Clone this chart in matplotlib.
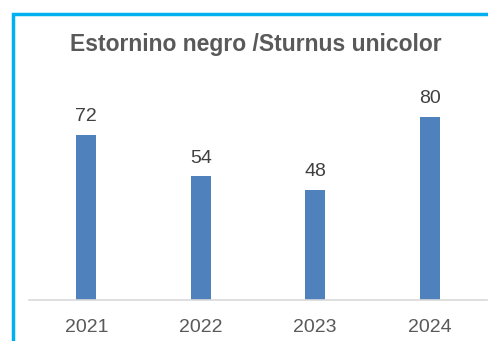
import matplotlib
matplotlib.use("Agg")
import matplotlib.pyplot as plt
from matplotlib.patches import Rectangle

years = ["2021", "2022", "2023", "2024"]
values = [72, 54, 48, 80]
title = "Estornino negro /Sturnus unicolor"

W, H = 488, 341
fig = plt.figure(figsize=(W / 100, H / 100), dpi=100)
plt.rcParams['font.family'] = ['Liberation Sans', 'DejaVu Sans']

# outer frame (cyan border, extends beyond image right/bottom)
fig.patches.append(Rectangle((12.5 / W, -0.1), 1.2, 1 - 13.5 / H + 0.1,
                             transform=fig.transFigure, fill=False,
                             edgecolor="#00B0F0", linewidth=2.5))

# axes: x 29..487, y bottom at 300
ax_left, ax_right = 29, 487
ax_bottom, ax_top = 300, 94
ax = fig.add_axes([ax_left / W, 1 - ax_bottom / H,
                   (ax_right - ax_left) / W, (ax_bottom - ax_top) / H])
x = range(len(years))
bars = ax.bar(x, values, width=0.175, color="#4F81BD", zorder=2)
ax.set_xlim(-0.5, len(years) - 0.5)
ax.set_ylim(0, 90)
for xi, v in zip(x, values):
    ax.annotate(str(v), (xi, v), xytext=(0, 7), textcoords="offset points",
                ha="center", va="bottom", fontsize=14, color="#404040",
                annotation_clip=False)
ax.set_xticks(list(x))
ax.set_xticklabels(years, fontsize=14, color="#595959")
ax.tick_params(axis="x", length=0, pad=13.5)
ax.set_yticks([])
for s in ["top", "right", "left"]:
    ax.spines[s].set_visible(False)
ax.spines["bottom"].set_color("#D9D9D9")
ax.spines["bottom"].set_linewidth(1.2)

fig.text(256 / W, 1 - 44 / H, title, ha="center", va="center",
         fontsize=16.5, fontweight="bold", color="#595959")

fig.savefig("out.png", dpi=100)
